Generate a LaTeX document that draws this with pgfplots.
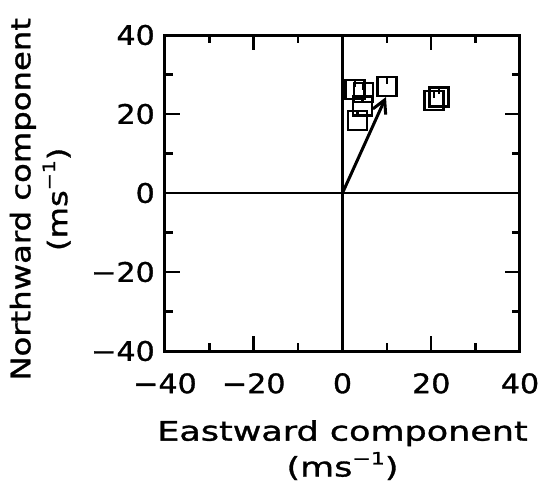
\documentclass[border=0pt]{standalone}
\usepackage{fontspec}
\setmainfont{DejaVu Sans}
\newfontfamily\labfont{DejaVu Sans}[FakeStretch=1.3,FakeBold=1.2]
\newfontfamily\ylabfont{DejaVu Sans}[FakeStretch=1.2,FakeBold=1.2]
\newfontfamily\tickfont{DejaVu Sans}[FakeStretch=1.12,FakeBold=1.2]
\usepackage{pgfplots}
\pgfplotsset{compat=1.18}
\usetikzlibrary{arrows.meta}
\pgfdeclareplotmark{sqtick}{%
 \pgfpathrectangle{\pgfqpoint{-\pgfplotmarksize}{-\pgfplotmarksize}}{\pgfqpoint{2\pgfplotmarksize}{2\pgfplotmarksize}}%
 \pgfpathmoveto{\pgfqpoint{0pt}{\pgfplotmarksize}}%
 \pgfpathlineto{\pgfqpoint{0pt}{0.3\pgfplotmarksize}}%
 \pgfusepathqstroke}
\newcommand{\unit}{(ms\raisebox{0.45em}{\fontsize{17}{17}\selectfont −1})}
\begin{document}
\begin{tikzpicture}
\useasboundingbox (-165bp,-134bp) rectangle (382bp,351bp);
\begin{axis}[
  at={(0,0)}, anchor=south west,
  scale only axis, width=355bp, height=316bp,
  xmin=-40, xmax=40, ymin=-40, ymax=40,
  xtick={-40,-20,0,20,40}, ytick={-40,-20,0,20,40},
  xticklabels={−40,−20,0,20,40}, yticklabels={−40,−20,0,20,40},
  minor xtick={-30,-10,10,30}, minor ytick={-30,-10,10,30},
  tick align=inside,
  major tick length=15bp, minor tick length=8bp,
  every tick/.style={black, line width=2.5bp},
  axis line style={line width=3bp},
  ticklabel style={font=\tickfont\fontsize{27}{27}\selectfont, inner sep=0pt},
  xticklabel style={anchor=north, yshift=-22bp},
  yticklabel style={anchor=east, xshift=-10bp},
  xlabel={Eastward component\\\unit},
  xlabel style={font=\labfont\fontsize{27}{36}\selectfont, align=center,
    at={(axis description cs:0.5,0)}, anchor=north, yshift=-69bp, inner sep=0pt},
  ylabel={Northward component\\\unit},
  ylabel style={font=\ylabfont\fontsize{27}{37}\selectfont, align=center,
    at={(axis description cs:-0.265,0.48)}, anchor=south, inner sep=0pt},
  clip=false,
]
\addplot[black, line width=2.5bp, forget plot] coordinates {(-40,0) (40,0)};
\addplot[black, line width=2.5bp, forget plot] coordinates {(0,-40) (0,40)};
\addplot[black, line width=3bp, -{Straight Barb[length=13bp,width=14bp]}, forget plot] coordinates {(0,0) (9.8,24.3)};
\addplot[only marks, mark=sqtick, mark size=9.5bp, black,
  mark options={line width=2.5bp}] coordinates {
  (2.8,26.2) (4.7,25.4) (4.5,22.0) (3.4,18.4) (10,27) (20.6,23.4) (21.8,24.3)};
\end{axis}
\end{tikzpicture}
\end{document}
